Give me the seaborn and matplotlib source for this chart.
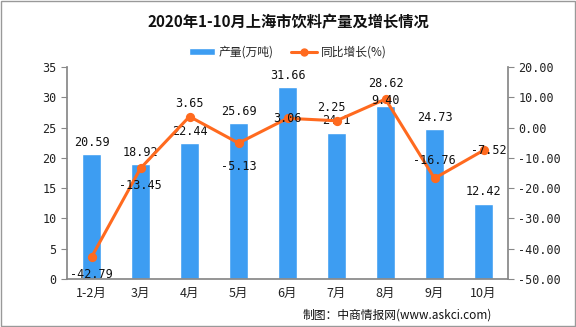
import matplotlib
matplotlib.use("Agg")
import matplotlib.pyplot as plt
import seaborn as sns
import pandas as pd
import numpy as np

months = ["1-2月", "3月", "4月", "5月", "6月", "7月", "8月", "9月", "10月"]
output = [20.59, 18.92, 22.44, 25.69, 31.66, 24.1, 28.62, 24.73, 12.42]
growth = [-42.79, -13.45, 3.65, -5.13, 3.06, 2.25, 9.40, -16.76, -7.52]
output_labels = ["20.59", "18.92", "22.44", "25.69", "31.66", "24.1", "28.62", "24.73", "12.42"]
growth_labels = ["-42.79", "-13.45", "3.65", "-5.13", "3.06", "2.25", "9.40", "-16.76", "-7.52"]
left_ticks = [0, 5, 10, 15, 20, 25, 30, 35]
right_ticks = [-50, -40, -30, -20, -10, 0, 10, 20]

sns.set_theme(style="white")
plt.rcParams['font.family'] = ['Noto Sans CJK SC', 'DejaVu Sans']

df = pd.DataFrame({"month": months, "output": output, "growth": growth})

BAR = "#3D9DF2"
LINE = "#FF6A1F"
GRAY = "#888888"

fig = plt.figure(figsize=(5.76, 3.27), dpi=100)
ax = fig.add_axes([67/576, 1-279/327, (508-67)/576, (279-67)/327])

sns.barplot(data=df, x="month", y="output", color=BAR, width=0.37, saturation=1, ax=ax)
ax.set_ylim(0, 35)
ax.set_yticks(left_ticks)
ax.set_xlabel("")
ax.set_ylabel("")

ax2 = ax.twinx()
sns.pointplot(data=df, x="month", y="growth", color=LINE, markers="o", ax=ax2,
              markersize=5, linewidth=2.2)
ax2.set_ylim(-50, 20)
ax2.set_yticks(right_ticks)
ax2.set_yticklabels([f"{v:.2f}" for v in right_ticks])
ax2.set_ylabel("")
ax2.set_xlabel("")

mono = ['DejaVu Sans Mono']
for a in (ax, ax2):
    for s in a.spines.values():
        s.set_visible(False)
    a.tick_params(axis='y', labelsize=8.5, colors="#222222", length=4, width=0.8, direction='out')
    for lab in a.get_yticklabels():
        lab.set_family(mono)
ax.spines['left'].set_visible(True)
ax.spines['left'].set_color(GRAY)
ax.spines['bottom'].set_visible(True)
ax.spines['bottom'].set_color(GRAY)
ax2.spines['right'].set_visible(True)
ax2.spines['right'].set_color(GRAY)
ax.tick_params(axis='y', color=GRAY)
ax2.tick_params(axis='y', color=GRAY)

ax.set_xticks(range(len(months)))
ax.set_xticklabels(months, fontsize=9, color="#222222")
ax.tick_params(axis='x', length=0, pad=6)
ax.set_xticks(np.arange(-0.5, len(months), 1), minor=True)
ax.tick_params(axis='x', which='minor', length=4, color=GRAY, width=0.8, direction='out')
ax.set_xlim(-0.5, len(months) - 0.5)

# bar labels (offsets in points)
bar_dy = [4, 4, 4, 4, 4, 4, 11, 4, 4]
for i, (v, t) in enumerate(zip(output, output_labels)):
    ax.annotate(t, (i, v), xytext=(0, bar_dy[i]), textcoords="offset points",
                ha="center", va="bottom", fontsize=8.5, family=mono, color="#111111")

# line labels offsets (points)
offs = [(0, -8, "top"), (0, -8, "top"), (0, 5, "bottom"), (0, -12, "top"),
        (0, 0, "center"), (-4, 5, "bottom"), (0, -1, "center"), (0, 8, "bottom"), (4, 0, "center")]
for i, (v, t) in enumerate(zip(growth, growth_labels)):
    dx, dy, va = offs[i]
    ax2.annotate(t, (i, v), xytext=(dx, dy), textcoords="offset points",
                 ha="center", va=va, fontsize=8.5, family=mono, color="#111111")

fig.text(0.5, 1-22/327, "2020年1-10月上海市饮料产量及增长情况", ha="center", va="center",
         fontsize=11, fontweight="bold", color="#111111")

# legend
from matplotlib.patches import Patch
from matplotlib.lines import Line2D
handles = [Patch(facecolor=BAR, label="产量(万吨)"),
           Line2D([0], [0], color=LINE, lw=2.2, marker="o", markersize=5, label="同比增长(%)")]
fig.legend(handles=handles, loc="center", bbox_to_anchor=(0.5, 1-52/327), ncol=2,
           frameon=False, fontsize=8.5, handlelength=2.2, handleheight=0.5, columnspacing=1.5,
           handletextpad=0.3)

fig.text(492/576, 1-315/327, "制图：中商情报网(www.askci.com)", ha="right", va="center",
         fontsize=8.5, color="#111111")

border = plt.Rectangle((0.001, 0.002), 0.997, 0.996, transform=fig.transFigure,
                       fill=False, edgecolor="#999999", lw=1)
fig.patches.append(border)

fig.savefig("out.png", dpi=100)
